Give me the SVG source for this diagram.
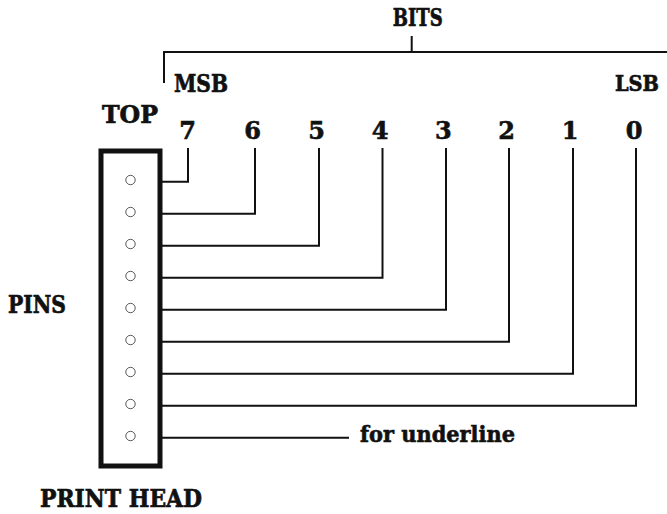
<svg xmlns="http://www.w3.org/2000/svg" width="667" height="514" viewBox="0 0 667 514">
<style>
.t{font-family:"DejaVu Serif","Liberation Serif",serif;font-weight:bold;font-size:24px;fill:#111;stroke:#111;stroke-width:0.7}
.d{font-family:"DejaVu Serif","Liberation Serif",serif;font-weight:bold;font-size:24px;fill:#111;stroke:#111;stroke-width:0.6;text-anchor:middle}
.u{font-family:"DejaVu Serif","Liberation Serif",serif;font-weight:bold;font-size:22px;fill:#111;stroke:#111;stroke-width:0.6}
.w{fill:none;stroke:#111;stroke-width:2}
.pin{fill:#fff;stroke:#555;stroke-width:1}
</style>
<rect width="667" height="514" fill="#fff"/>
<g id="bits-bracket">
<path class="w" d="M164 83 V52 H667 M411.7 36 V52"/>
<text class="t" x="392.7" y="26" textLength="50" lengthAdjust="spacingAndGlyphs">BITS</text>
</g>
<g id="labels">
<text class="t" x="174" y="91.5" textLength="54" lengthAdjust="spacingAndGlyphs">MSB</text>
<text class="t" x="615" y="91" style="font-size:22.5px" textLength="44" lengthAdjust="spacingAndGlyphs">LSB</text>
<text class="t" x="102" y="122.7" textLength="56" lengthAdjust="spacingAndGlyphs">TOP</text>
<text class="t" x="8" y="313" textLength="58" lengthAdjust="spacingAndGlyphs">PINS</text>
<text class="t" x="40" y="506.7" textLength="162" lengthAdjust="spacingAndGlyphs">PRINT HEAD</text>
</g>
<g id="bit-numbers">
<text class="d" x="187.7" y="139">7</text>
<text class="d" x="252.7" y="139">6</text>
<text class="d" x="316.7" y="139">5</text>
<text class="d" x="380" y="139">4</text>
<text class="d" x="443.3" y="139">3</text>
<text class="d" x="506.7" y="139">2</text>
<text class="d" x="570" y="139">1</text>
<text class="d" x="634" y="139">0</text>
</g>
<g id="print-head">
<rect x="101" y="151" width="59" height="315" fill="none" stroke="#111" stroke-width="5"/>
<circle class="pin" cx="130.5" cy="180" r="4.7"/>
<circle class="pin" cx="130.5" cy="212" r="4.7"/>
<circle class="pin" cx="130.5" cy="244" r="4.7"/>
<circle class="pin" cx="130.5" cy="276" r="4.7"/>
<circle class="pin" cx="130.5" cy="308" r="4.7"/>
<circle class="pin" cx="130.5" cy="340" r="4.7"/>
<circle class="pin" cx="130.5" cy="372" r="4.7"/>
<circle class="pin" cx="130.5" cy="404" r="4.7"/>
<circle class="pin" cx="130.5" cy="436" r="4.7"/>
</g>
<g id="connectors">
<path class="w" d="M162 181.7 H188 V148"/>
<path class="w" d="M162 213.7 H255 V148"/>
<path class="w" d="M162 245.7 H319 V148"/>
<path class="w" d="M162 277.7 H382.5 V148"/>
<path class="w" d="M162 309.7 H446 V148"/>
<path class="w" d="M162 341.7 H509 V148"/>
<path class="w" d="M162 373.7 H573 V148"/>
<path class="w" d="M162 405.7 H636 V148"/>
<path class="w" d="M162 437.7 H349"/>
</g>
<g id="underline-label">
<text class="u" x="360" y="441.7" textLength="155" lengthAdjust="spacingAndGlyphs">for underline</text>
</g>
</svg>
